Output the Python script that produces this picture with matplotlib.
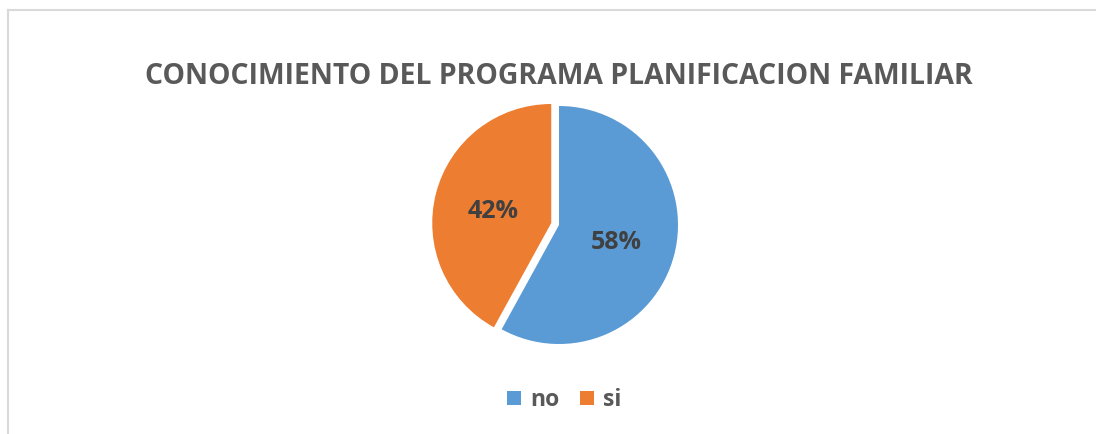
import matplotlib
matplotlib.use("Agg")
import matplotlib.pyplot as plt
from matplotlib.lines import Line2D

# datos
categorias = ["no", "si"]
porcentajes = [58, 42]
colores = ["#5B9BD5", "#ED7D31"]
titulo = "CONOCIMIENTO DEL PROGRAMA PLANIFICACION FAMILIAR"

plt.rcParams["font.family"] = ["Open Sans", "DejaVu Sans"]

W, H = 1096, 434
fig = plt.figure(figsize=(W / 100, H / 100), dpi=100)
fig.patch.set_facecolor("white")

# borde del area del grafico (gris claro, arriba e izquierda)
fig.add_artist(Line2D([8 / W, 1], [1 - 10 / H, 1 - 10 / H], color="#D9D9D9", lw=1.5))
fig.add_artist(Line2D([8 / W, 8 / W], [0, 1 - 10 / H], color="#D9D9D9", lw=1.5))

radio = 119
separacion = 8  # px que se separa la porcion "si"

ax = fig.add_axes([0, 0, 1, 1])
wedges, textos, autotextos = ax.pie(
    porcentajes,
    colors=colores,
    startangle=90,
    counterclock=False,
    explode=[0, separacion],
    center=(559, H - 225),
    radius=radio,
    autopct="%1.0f%%",
    pctdistance=0.5,
    textprops=dict(fontsize=18, fontweight="bold", color="#404040"),
)
for a in autotextos:
    a.set_va("center_baseline")
ax.set_xlim(0, W)
ax.set_ylim(0, H)
ax.set_aspect("equal")
ax.axis("off")

# titulo, ajustando el ancho al de la referencia
t = fig.text(559 / W, 1 - 77 / H, titulo, ha="center", va="center",
             fontsize=20, fontweight="bold", color="#595959")
fig.canvas.draw()
ancho = t.get_window_extent().width
t.set_fontsize(20 * 828 / ancho)

leg = fig.legend(wedges, categorias, loc="center", bbox_to_anchor=(564 / W, 1 - 400 / H),
                 ncol=2, frameon=False, handlelength=0.62, handleheight=0.62,
                 handletextpad=0.4, columnspacing=0.9,
                 prop=dict(size=16.5, weight="bold"))
for txt in leg.get_texts():
    txt.set_color("#595959")

fig.savefig("out.png", dpi=100, facecolor="white")
